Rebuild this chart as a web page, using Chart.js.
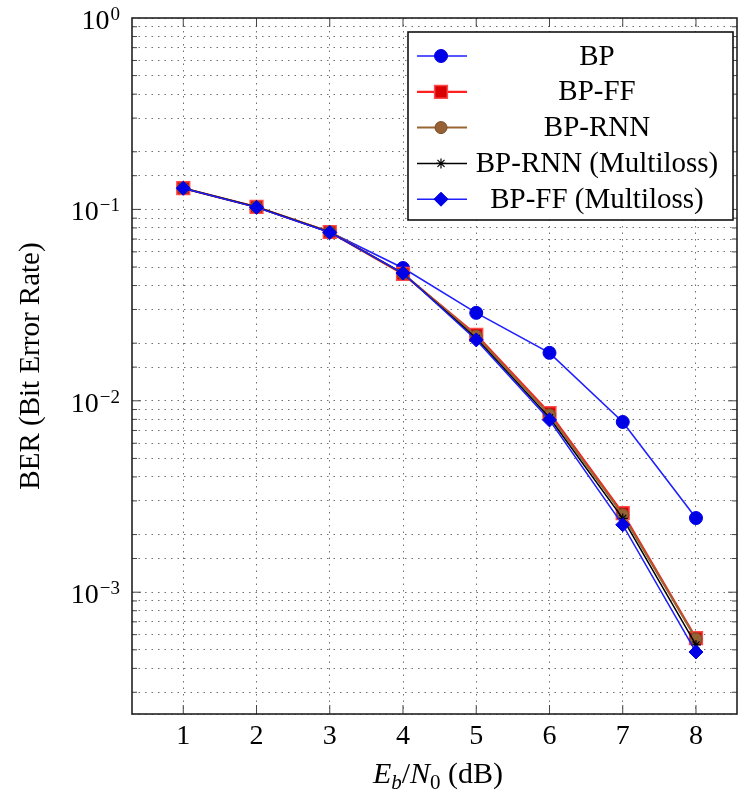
<!DOCTYPE html>
<html>
<head>
<meta charset="utf-8">
<script src="https://cdn.jsdelivr.net/npm/chart.js@4.4.0/dist/chart.umd.min.js"></script>
<style>
  body { margin: 0; background: #fff; }
</style>
</head>
<body>
<canvas id="berChart" width="739" height="796"></canvas>
<script>
// Data
const ebn0 = [1, 2, 3, 4, 5, 6, 7, 8];          // Eb/N0 in dB
const berBP = [0.129, 0.103, 0.0762, 0.0494, 0.0288, 0.0178, 0.00775, 0.00244];
const berFF = [0.129, 0.103, 0.0762, 0.0460, 0.0221, 0.00863, 0.00259, 0.000576];
const berRNN = [0.129, 0.103, 0.0762, 0.0462, 0.0218, 0.00845, 0.00254, 0.000570];
const berRNNMulti = [0.129, 0.103, 0.0760, 0.0463, 0.0212, 0.00815, 0.00243, 0.000530];
const berFFMulti = [0.129, 0.1025, 0.0758, 0.0465, 0.0208, 0.00794, 0.00225, 0.000487];

const seriesNames = ['BP', 'BP-FF', 'BP-RNN', 'BP-RNN (Multiloss)', 'BP-FF (Multiloss)'];
const xTicks = [1, 2, 3, 4, 5, 6, 7, 8];
const yDecades = [0, -1, -2, -3];                // labels 10^0 ... 10^-3

const serif = '"Liberation Serif", "Times New Roman", serif';

function points(ys) {
    return ebn0.map((x, i) => ({ x: x, y: ys[i] }));
}

// Custom drawing: box, inside ticks, y labels with superscripts, titles, legend
const decorPlugin = {
    id: 'decor',
    afterDraw(chart) {
        const c = chart.ctx;
        const a = chart.chartArea;
        const xs = chart.scales.x;
        const ys = chart.scales.y;
        c.save();

        // tick marks pointing inwards
        c.strokeStyle = '#444';
        c.lineWidth = 1;
        c.beginPath();
        ys.ticks.forEach(t => {
            const py = ys.getPixelForValue(t.value);
            if (py < a.top + 1 || py > a.bottom - 1) return;
            const lg = Math.log10(t.value);
            const len = Math.abs(lg - Math.round(lg)) < 1e-6 ? 9 : 5;
            c.moveTo(a.left, py); c.lineTo(a.left + len, py);
            c.moveTo(a.right, py); c.lineTo(a.right - len, py);
        });
        xTicks.forEach(v => {
            const px = xs.getPixelForValue(v);
            c.moveTo(px, a.bottom); c.lineTo(px, a.bottom - 9);
            c.moveTo(px, a.top); c.lineTo(px, a.top + 9);
        });
        c.stroke();

        // plot frame
        c.strokeStyle = '#222';
        c.lineWidth = 1.6;
        c.strokeRect(a.left, a.top, a.right - a.left, a.bottom - a.top);

        // y tick labels 10^k
        c.fillStyle = '#000';
        c.textBaseline = 'alphabetic';
        c.textAlign = 'left';
        yDecades.forEach(k => {
            const py = ys.getPixelForValue(Math.pow(10, k));
            const sup = (k < 0 ? '\u2212' : '') + Math.abs(k);
            c.font = '19px ' + serif;
            const wSup = c.measureText(sup).width;
            c.font = '28px ' + serif;
            const wBase = c.measureText('10').width;
            const right = 120;
            c.fillText('10', right - wSup - wBase - 1, py + 11);
            c.font = '19px ' + serif;
            c.fillText(sup, right - wSup, py + 2);
        });

        // y axis title
        c.save();
        c.translate(31, (a.top + a.bottom) / 2);
        c.rotate(-Math.PI / 2);
        c.textAlign = 'center';
        c.textBaseline = 'middle';
        c.font = '29px ' + serif;
        c.fillText('BER (Bit Error Rate)', 0, 0);
        c.restore();

        // x axis title: E_b/N_0 (dB)
        const parts = [
            { t: 'E', f: 'italic 30px ', dy: 0 },
            { t: 'b', f: 'italic 21px ', dy: 6 },
            { t: '/', f: '30px ', dy: 0 },
            { t: 'N', f: 'italic 30px ', dy: 0 },
            { t: '0', f: '21px ', dy: 6 },
            { t: ' (dB)', f: '30px ', dy: 0 }
        ];
        let total = 0;
        parts.forEach(p => { c.font = p.f + serif; p.w = c.measureText(p.t).width; total += p.w; });
        let tx = 438 - total / 2;
        parts.forEach(p => {
            c.font = p.f + serif;
            c.fillText(p.t, tx, 783 + p.dy);
            tx += p.w;
        });

        // legend box
        const lx = 408, ly = 32, lw = 325, lh = 188;
        c.fillStyle = '#fff';
        c.fillRect(lx, ly, lw, lh);
        c.strokeStyle = '#111';
        c.lineWidth = 1.6;
        c.strokeRect(lx, ly, lw, lh);
        chart.data.datasets.forEach((ds, i) => {
            const ry = 56 + i * 35.8;
            c.strokeStyle = ds.borderColor;
            c.lineWidth = ds.borderWidth;
            c.beginPath();
            c.moveTo(417, ry); c.lineTo(467, ry);
            c.stroke();
            c.fillStyle = ds.backgroundColor;
            c.strokeStyle = ds.pointBorderColor;
            c.lineWidth = ds.pointBorderWidth;
            Chart.helpers.drawPoint(c, {
                pointStyle: ds.pointStyle, radius: ds.pointRadius,
                borderWidth: ds.pointBorderWidth, rotation: 0
            }, 441, ry);
            c.fillStyle = '#000';
            c.font = '29px ' + serif;
            c.textAlign = 'center';
            c.textBaseline = 'middle';
            c.fillText(ds.label, 597, ry + 1);
        });

        c.restore();
    }
};

const ctx = document.getElementById('berChart').getContext('2d');
const berChart = new Chart(ctx, {
    type: 'line',
    data: {
        datasets: [
            {
                label: seriesNames[0], data: points(berBP), order: 5,
                borderColor: '#1f1fff', borderWidth: 1.6,
                backgroundColor: '#0000e6', pointBorderColor: '#0000e6',
                pointStyle: 'circle', pointRadius: 6.5, pointBorderWidth: 1
            },
            {
                label: seriesNames[1], data: points(berFF), order: 4,
                borderColor: '#ff2020', borderWidth: 2.2,
                backgroundColor: '#d80000', pointBorderColor: '#ff4a4a',
                pointStyle: 'rect', pointRadius: 9, pointBorderWidth: 1.5
            },
            {
                label: seriesNames[2], data: points(berRNN), order: 3,
                borderColor: '#996633', borderWidth: 2,
                backgroundColor: '#966235', pointBorderColor: '#7a4e26',
                pointStyle: 'circle', pointRadius: 6, pointBorderWidth: 1
            },
            {
                label: seriesNames[3], data: points(berRNNMulti), order: 2,
                borderColor: '#000000', borderWidth: 1.5,
                backgroundColor: '#000000', pointBorderColor: '#000000',
                pointStyle: 'star', pointRadius: 5, pointBorderWidth: 1.2
            },
            {
                label: seriesNames[4], data: points(berFFMulti), order: 1,
                borderColor: '#1f1fff', borderWidth: 1.5,
                backgroundColor: '#0000e6', pointBorderColor: '#0000e6',
                pointStyle: 'rectRot', pointRadius: 7, pointBorderWidth: 1
            }
        ]
    },
    options: {
        responsive: false,
        animation: false,
        devicePixelRatio: 1,
        layout: {
            autoPadding: false,
            padding: { left: 0, right: 2, top: 18, bottom: 0 }
        },
        elements: { line: { tension: 0 } },
        plugins: {
            legend: { display: false },
            tooltip: { enabled: false }
        },
        scales: {
            x: {
                type: 'linear',
                min: 0.3,
                max: 8.56,
                afterBuildTicks: s => { s.ticks = xTicks.map(v => ({ value: v })); },
                afterFit: s => {
                    s.height = 82;
                    s.paddingLeft = 0;
                    s.paddingRight = 0;
                },
                grid: { color: '#707070', lineWidth: 1, drawTicks: false },
                border: { display: false, dash: [1.5, 5] },
                ticks: {
                    color: '#000',
                    padding: 6,
                    maxRotation: 0,
                    font: { family: serif, size: 28 },
                    callback: v => String(v)
                }
            },
            y: {
                type: 'logarithmic',
                min: 2.31e-4,
                max: 1,
                afterFit: s => {
                    s.width = 132;
                    s.paddingTop = 0;
                    s.paddingBottom = 0;
                },
                grid: { color: '#707070', lineWidth: 1, drawTicks: false },
                border: { display: false, dash: [1.5, 5] },
                ticks: { display: false }
            }
        }
    },
    plugins: [decorPlugin]
});
</script>
</body>
</html>
